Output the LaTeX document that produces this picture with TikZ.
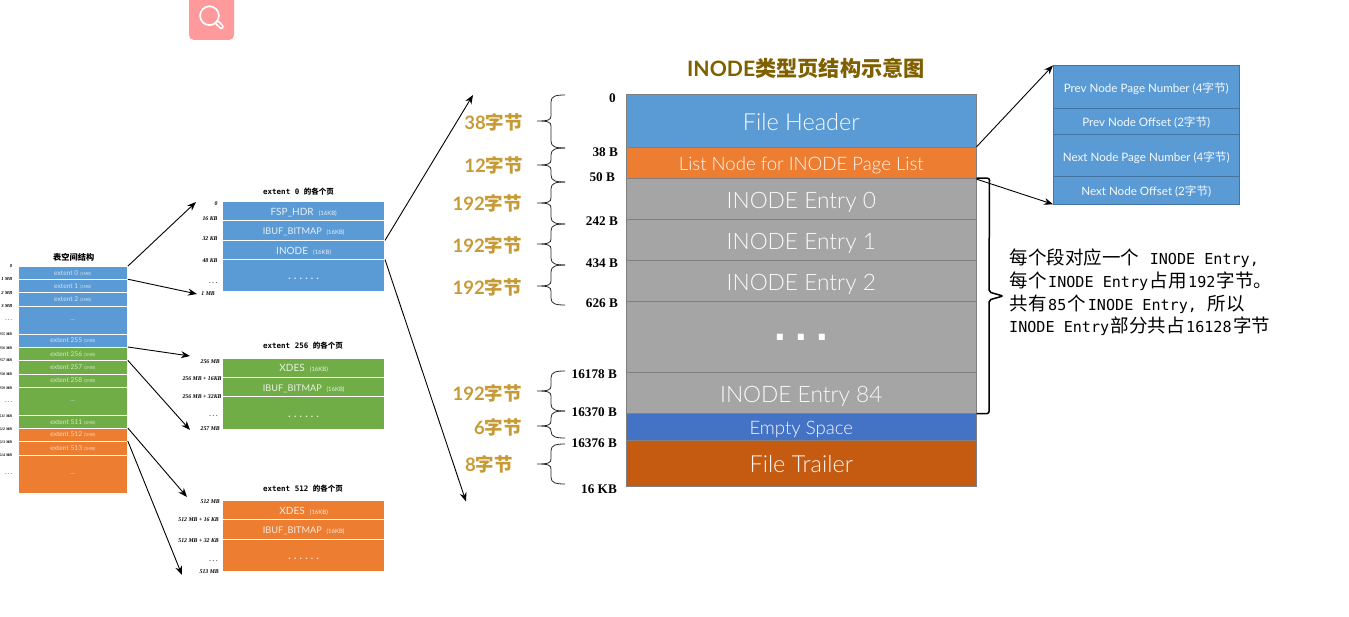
\documentclass[tikz,border=0pt]{standalone}
\usepackage{fontspec}
\setmainfont{Lato}
\newfontfamily\fin{Lato Light}
\newfontfamily\cjk{Noto Sans CJK SC}
\newfontfamily\cjkm{Noto Sans CJK SC Medium}
\newfontfamily\serifb{Liberation Serif}
\newfontfamily\mono{DejaVu Sans Mono}
\usepackage{xcolor}
\usetikzlibrary{arrows.meta}
\definecolor{bleu}{HTML}{5B9BD5}
\definecolor{orange}{HTML}{ED7D31}
\definecolor{vert}{HTML}{70AD47}
\definecolor{gris}{HTML}{A5A5A5}
\definecolor{bleufonce}{HTML}{4472C4}
\definecolor{brique}{HTML}{C55A11}
\definecolor{or}{HTML}{C69A35}
\definecolor{titre}{HTML}{7F6000}
\definecolor{rose}{HTML}{FE9A9B}
\newcommand{\fs}[1]{\fontsize{#1}{#1}\selectfont}
\newcommand{\zh}[1]{\hspace{1.5pt}{\cjk\fs{18.5}#1}\hspace{1.5pt}}
% accolade ouverte a gauche : haut, pointe, bas
\newcommand{\accol}[3]{\draw[accolade] (565,#1) .. controls (556,#1) and (551,#1+1) .. (551,#1+7) -- (551,#2-5) .. controls (551,#2-1) and (548,#2) .. (537,#2) .. controls (548,#2) and (551,#2+1) .. (551,#2+5) -- (551,#3-7) .. controls (551,#3-1) and (556,#3) .. (565,#3);}
\begin{document}
\begin{tikzpicture}[
	x=1pt,y=-1pt,
	cell/.style={draw=white, line width=.6pt, inner sep=0pt, text=white, text opacity=.85, anchor=center},
	ext/.style={cell, minimum width=109.5pt, font=\fs{6.6}, text opacity=.72},
	page/.style={cell, minimum width=162pt, font=\fs{10}, text height=8.6pt, text depth=0pt},
	main/.style={cell, draw=gray, line width=.9pt, minimum width=349.5pt, font=\fin\fs{23.5}, text height=19pt, text depth=0pt, text opacity=.95},
	entry/.style={main, fill=gris, font=\fin\fs{22.7}},
	bandeau/.style={main, font=\fin\fs{18.6}, text height=15.4pt},
	field/.style={cell, draw=bleu!75!black, line width=.6pt, fill=bleu, minimum width=186pt, font=\fs{11.6}, text height=11.4pt, text depth=0pt, text opacity=.95},
	offset/.style={anchor=east, inner sep=0pt, font=\serifb\bfseries\fs{13.2}},
	tiny/.style={anchor=east, inner sep=0pt, font=\serifb\bfseries\itshape\fs{5.8}},
	tinyg/.style={tiny, font=\serifb\bfseries\itshape\fs{4.6}},
	tinyp/.style={tiny, font=\serifb\bfseries\itshape\fs{3.9}},
	size/.style={anchor=east, inner sep=0pt, text=or, font=\bfseries\fs{18.5}},
	head/.style={inner sep=0pt, font=\mono\bfseries\fs{7.5}},
	ligne/.style={anchor=base west, inner sep=0pt, font=\mono\fs{15.1}},
	fleche/.style={-{Stealth[length=9pt,width=7pt]}, line width=.9pt},
	accolade/.style={draw=black!85, line width=.8pt}
	]
	\useasboundingbox (0,0) rectangle (1349,617);

	% Loupe
	\fill[rose, rounded corners=5pt] (189,-8) rectangle (234,40);
	\fill[white] (0,-10) rectangle (1349,0);
	\draw[white, line width=1.7pt] (209.5,15.7) circle (9.4);
	\draw[white, line width=5pt, line cap=round] (217.5,23) -- (221.3,26.7);
	\draw[rose, line width=1.8pt, line cap=round] (217.5,23) -- (221.3,26.7);

	% Espace de table
	\node[head, font=\cjk\bfseries\fs{8.2}] (ttl) at (73.7,257) {表空间结构};
	\node[ext, fill=bleu, minimum height=13pt] (e0) at (72.75,273) {extent 0 {\fs{4.2}(1MB)}};
	\node[ext, fill=bleu, minimum height=13pt] (e1) at (72.75,286) {extent 1 {\fs{4.2}(1MB)}};
	\node[ext, fill=bleu, minimum height=13.3pt] (e2) at (72.75,299.3) {extent 2 {\fs{4.2}(1MB)}};
	\node[ext, fill=bleu, minimum height=28.3pt] (e3) at (72.75,320.2) {...};
	\node[ext, fill=bleu, minimum height=13pt] (e255) at (72.75,340.8) {extent 255 {\fs{4.2}(1MB)}};
	\node[ext, fill=vert, minimum height=13.4pt] (e256) at (72.75,354) {extent 256 {\fs{4.2}(1MB)}};
	\node[ext, fill=vert, minimum height=13.3pt] (e257) at (72.75,367.3) {extent 257 {\fs{4.2}(1MB)}};
	\node[ext, fill=vert, minimum height=13.3pt] (e258) at (72.75,380.7) {extent 258 {\fs{4.2}(1MB)}};
	\node[ext, fill=vert, minimum height=28.4pt] (e259) at (72.75,401.5) {...};
	\node[ext, fill=vert, minimum height=12.6pt] (e511) at (72.75,422) {extent 511 {\fs{4.2}(1MB)}};
	\node[ext, fill=orange, minimum height=13pt] (e512) at (72.75,434.8) {extent 512 {\fs{4.2}(1MB)}};
	\node[ext, fill=orange, minimum height=13.7pt] (e513) at (72.75,448.2) {extent 513 {\fs{4.2}(1MB)}};
	\node[ext, fill=orange, minimum height=38.3pt] (e514) at (72.75,474.2) {...};

	\node[tinyg] (l0) at (12.3,266) {0};
	\node[tinyg] (l1) at (12.3,279) {1 MB};
	\node[tinyg] (l2) at (12.3,292.7) {2 MB};
	\node[tinyg] (l3) at (12.3,306) {3 MB};
	\node[tinyg] (l4) at (12.3,320) {. . .};
	\node[tinyp] (l255) at (12.3,334) {255 MB};
	\node[tinyp] (l256) at (12.3,348) {256 MB};
	\node[tinyp] (l257) at (12.3,360.7) {257 MB};
	\node[tinyp] (l258) at (12.3,374) {258 MB};
	\node[tinyp] (l259) at (12.3,388) {259 MB};
	\node[tinyg] (l260) at (12.3,401.7) {. . .};
	\node[tinyp] (l511) at (12.3,416) {511 MB};
	\node[tinyp] (l512) at (12.3,429) {512 MB};
	\node[tinyp] (l513) at (12.3,442) {513 MB};
	\node[tinyp] (l514) at (12.3,455) {514 MB};
	\node[tinyg] (l515) at (12.3,474) {. . .};

	% Pages de extent 0
	\node[head] (ttl0) at (298.5,191.7) {extent 0 {\cjk\bfseries 的各个页}};
	\node[page, fill=bleu, minimum height=19.7pt] (fsp) at (303.7,210.9) {FSP\_HDR \ {\fs{6}(16KB)}};
	\node[page, fill=bleu, minimum height=20pt, font=\fs{9.2}] (ibuf) at (303.7,230.7) {IBUF\_BITMAP \ {\fs{6}(16KB)}};
	\node[page, fill=bleu, minimum height=18.6pt] (inode) at (303.7,250) {INODE \ {\fs{6}(16KB)}};
	\node[page, fill=bleu, minimum height=32.4pt] (reste) at (303.7,275.5) {\textbf{. . . . . .}};
	\node[tiny] (a0) at (217.7,204) {0};
	\node[tiny] (a1) at (217.7,218.7) {16 KB};
	\node[tiny] (a2) at (217.7,238.7) {32 KB};
	\node[tiny] (a3) at (217.7,260.7) {48 KB};
	\node[tiny] (a4) at (217.7,283) {. . .};
	\node[tiny] (a5) at (215,294) {1 MB};

	% Pages de extent 256
	\node[head] (ttl256) at (303,345.7) {extent 256 {\cjk\bfseries 的各个页}};
	\node[page, fill=vert, minimum height=19.3pt] (xdesb) at (303.7,367.7) {XDES \ {\fs{6}(16KB)}};
	\node[page, fill=vert, minimum height=19.4pt, font=\fs{9.2}] (ibufb) at (303.7,387) {IBUF\_BITMAP \ {\fs{6}(16KB)}};
	\node[page, fill=vert, minimum height=32.3pt] (resteb) at (303.7,412.9) {\textbf{. . . . . .}};
	\node[tiny] (b0) at (220,362) {256 MB};
	\node[tiny] (b1) at (221.7,378.3) {256 MB + 16KB};
	\node[tiny] (b2) at (221.7,396.7) {256 MB + 32KB};
	\node[tiny] (b3) at (218,416) {. . .};
	\node[tiny] (b4) at (220,429) {257 MB};

	% Pages de extent 512
	\node[head] (ttl512) at (303,489) {extent 512 {\cjk\bfseries 的各个页}};
	\node[page, fill=orange, minimum height=19.7pt] (xdesc) at (303.7,509.9) {XDES \ {\fs{6}(16KB)}};
	\node[page, fill=orange, minimum height=19.6pt, font=\fs{9.2}] (ibufc) at (303.7,529.5) {IBUF\_BITMAP \ {\fs{6}(16KB)}};
	\node[page, fill=orange, minimum height=32pt] (restec) at (303.7,555.3) {\textbf{. . . . . .}};
	\node[tiny] (c0) at (220,501.3) {512 MB};
	\node[tiny] (c1) at (219,519.3) {512 MB + 16 KB};
	\node[tiny] (c2) at (219,540.7) {512 MB + 32 KB};
	\node[tiny] (c3) at (218,560.7) {. . .};
	\node[tiny] (c4) at (219,571.7) {513 MB};

	% Page INODE
	\node[inner sep=0pt, text=titre, font=\bfseries\fs{21.2}] (titre) at (806,68) {INODE{\cjk\bfseries 类型页结构示意图}};
	\node[main, fill=bleu, minimum height=53pt] (fh) at (801.3,120.8) {File Header};
	\node[bandeau, fill=orange, minimum height=31.4pt] (list) at (801.3,163) {List Node for INODE Page List};
	\node[entry, minimum height=40.6pt] (i0) at (801.3,199) {INODE Entry 0};
	\node[entry, minimum height=41.4pt] (i1) at (801.3,240) {INODE Entry 1};
	\node[entry, minimum height=41pt] (i2) at (801.3,281.2) {INODE Entry 2};
	\node[entry, minimum height=71pt] (imid) at (801.3,337.2) {};
	\node[inner sep=0pt, text=white, font=\fontspec{Liberation Sans Bold}\fs{42}] (pts) at (801.3,337.5) {.\hspace{9.8pt}.\hspace{9.8pt}.};
	\node[entry, minimum height=40.6pt] (i84) at (801.3,393) {INODE Entry 84};
	\node[bandeau, fill=bleufonce, minimum height=26.7pt] (empty) at (801.3,426.7) {Empty Space};
	\node[main, fill=brique, minimum height=46pt] (ft) at (801.3,463) {File Trailer};

	% Les decalages
	\node[offset] (o0) at (616,98) {0};
	\node[offset] (o38) at (618,152) {38 B};
	\node[offset] (o50) at (615,177) {50 B};
	\node[offset] (o242) at (618,221) {242 B};
	\node[offset] (o434) at (618,263) {434 B};
	\node[offset] (o626) at (618,303) {626 B};
	\node[offset] (o16178) at (617,374) {16178 B};
	\node[offset] (o16370) at (617,412) {16370 B};
	\node[offset] (o16376) at (617,443) {16376 B};
	\node[offset] (o16k) at (617,489) {16 KB};

	% Les tailles
	\node[size] (s38) at (523,122) {38{\cjkm 字节}};
	\node[size] (s12) at (523,165) {12{\cjkm 字节}};
	\node[size] (s192a) at (522,203) {192{\cjkm 字节}};
	\node[size] (s192b) at (522,245) {192{\cjkm 字节}};
	\node[size] (s192c) at (522,287) {192{\cjkm 字节}};
	\node[size] (s192d) at (522,393) {192{\cjkm 字节}};
	\node[size] (s6) at (522,427) {6{\cjkm 字节}};
	\node[size] (s8) at (513,464) {8{\cjkm 字节}};

	\accol{95}{121}{148}
	\accol{148}{165}{182}
	\accol{182}{203}{224}
	\accol{224}{244}{265}
	\accol{265}{286}{305}
	\accol{371}{391}{411}
	\accol{411}{426}{438}
	\accol{444}{464}{484}

	% Champs de la liste
	\node[field, minimum height=42.6pt] (f0) at (1146.3,87) {Prev Node Page Number (4{\cjk 字节})};
	\node[field, minimum height=26pt] (f1) at (1146.3,121.3) {Prev Node Offset (2{\cjk 字节})};
	\node[field, minimum height=42.4pt] (f2) at (1146.3,155.5) {Next Node Page Number (4{\cjk 字节})};
	\node[field, minimum height=27.3pt] (f3) at (1146.3,190.3) {Next Node Offset (2{\cjk 字节})};

	% Accolade droite et texte
	\draw[black, line width=1.5pt, rounded corners=2pt] (i0.north east) -- ++(13,0) -- (989,292) -- (1003,296) -- (989,300) -- (989,413.5) -- (i84.south east);
	\node[ligne] (n1) at (1008,265) {\zh{每个段对应一个} INODE Entry,};
	\node[ligne] (n2) at (1008,287.5) {\zh{每个}INODE Entry\zh{占用}192\zh{字节。}};
	\node[ligne] (n3) at (1008,311) {\zh{共有}85\zh{个}INODE Entry, \zh{所以}};
	\node[ligne] (n4) at (1009,333) {INODE Entry\zh{部分共占}16128\zh{字节}};

	% Les fleches
	\coordinate (t0) at (196,202);
	\coordinate (t1) at (197,294);
	\coordinate (t2) at (190,356);
	\coordinate (t3) at (190,430);
	\coordinate (t4) at (187,497);
	\coordinate (t5) at (182,575);
	\coordinate (t6) at (473,95);
	\coordinate (t7) at (466,501.5);
	\draw[fleche] (e0.north east) -- (t0);
	\draw[fleche] (e1.north east) -- (t1);
	\draw[fleche] (e256.north east) -- (t2);
	\draw[fleche] (e257.north east) -- (t3);
	\draw[fleche] (e512.north east) -- (t4);
	\draw[fleche] (e513.north east) -- (t5);
	\draw[fleche] (inode.north east) -- (t6);
	\draw[fleche] (inode.south east) -- (t7);
	\draw[fleche] (list.north east) -- (f0.north west);
	\draw[fleche] (list.south east) -- (f3.south west);
\end{tikzpicture}
\end{document}
